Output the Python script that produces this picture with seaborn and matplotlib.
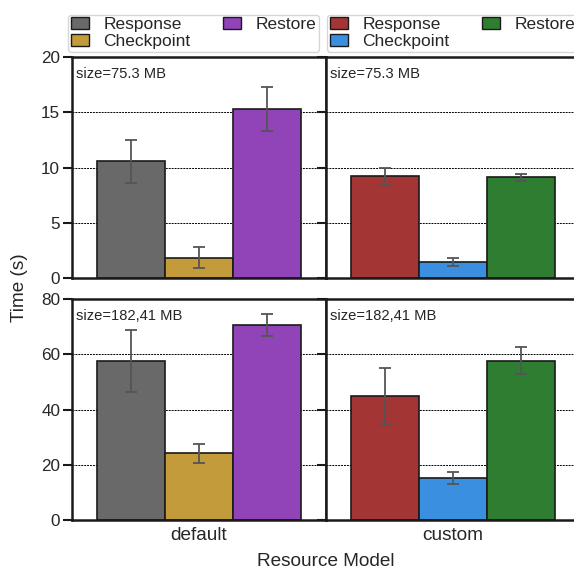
import numpy as np
import pandas as pd
import matplotlib
matplotlib.use("Agg")
import matplotlib.pyplot as plt
import seaborn as sns
from matplotlib.patches import Patch

# ---- data -------------------------------------------------------------
models = ["default", "custom"]
sizes = ["75.3 MB", "182,41 MB"]
phases = ["Response", "Checkpoint", "Restore"]

# mean time (s) and error half-width, per image size / resource model
mean_small_default = [10.55, 1.85, 15.3]
err_small_default = [1.93, 0.92, 2.0]
mean_small_custom = [9.2, 1.48, 9.1]
err_small_custom = [0.8, 0.35, 0.35]
mean_large_default = [57.5, 24.1, 70.6]
err_large_default = [11.2, 3.45, 4.15]
mean_large_custom = [44.8, 15.1, 57.7]
err_large_custom = [10.3, 2.2, 5.0]

y_limits = [20, 80]
y_ticks = [[0, 5, 10, 15, 20], [0, 20, 40, 60, 80]]

colors = {
    "default": ["#696969", "#c49b3a", "#9044b8"],
    "custom": ["#a33535", "#3a8fe0", "#2e7d30"],
}

table = {
    ("75.3 MB", "default"): (mean_small_default, err_small_default),
    ("75.3 MB", "custom"): (mean_small_custom, err_small_custom),
    ("182,41 MB", "default"): (mean_large_default, err_large_default),
    ("182,41 MB", "custom"): (mean_large_custom, err_large_custom),
}
rows = []
for (size, model), (means, errs) in table.items():
    for phase, m, e in zip(phases, means, errs):
        rows.append(dict(size=size, model=model, phase=phase, time=m, err=e))
df = pd.DataFrame(rows)

# ---- style ------------------------------------------------------------
sns.set_theme(style="ticks")
plt.rcParams["font.family"] = ["Liberation Sans", "DejaVu Sans"]
plt.rcParams["axes.edgecolor"] = "#1a1a1a"
plt.rcParams["axes.linewidth"] = 1.8

W, H = 574, 572
fig = plt.figure(figsize=(W / 100, H / 100), dpi=100)

edge = "#1a1a1a"
ax_w = 254
col_left = [72, 326]
row_top = [57, 299]
ax_h = 221

axes = {}
for r, size in enumerate(sizes):
    for c, model in enumerate(models):
        left = col_left[c] / W
        bottom = (H - row_top[r] - ax_h) / H
        ax = fig.add_axes([left, bottom, ax_w / W, ax_h / H])
        axes[(r, c)] = ax
        sub = df[(df["size"] == size) & (df["model"] == model)]
        sns.barplot(data=sub, x="model", y="time", hue="phase",
                    hue_order=phases, palette=colors[model], saturation=1,
                    errorbar=None, edgecolor=edge, linewidth=1.2, width=0.8,
                    gap=0, legend=False, ax=ax)
        xs = [p.get_x() + p.get_width() / 2 for p in ax.patches]
        hs = [p.get_height() for p in ax.patches]
        errs = sub.set_index("phase").loc[phases, "err"].values
        ax.errorbar(xs, hs, yerr=errs, fmt="none", ecolor="#555555",
                    elinewidth=1.3, capsize=4.5, capthick=1.3, zorder=5)
        ax.set_xlim(-0.5, 0.5)
        ax.set_ylim(0, y_limits[r])
        ax.set_yticks(y_ticks[r])
        ax.set_axisbelow(True)
        ax.yaxis.grid(True, color="black", linestyle=(0, (2, 1)), linewidth=0.7)
        ax.set_xlabel("")
        ax.set_ylabel("")
        ax.tick_params(axis="y", length=6.5, width=1.5, labelsize=12.3,
                       pad=2, color=edge)
        ax.tick_params(axis="x", length=0, labelsize=13.7, pad=5)
        if c == 1:
            ax.tick_params(axis="y", labelleft=False)
        if r == 0:
            ax.tick_params(axis="x", labelbottom=False)
        ax.text(0.016, 0.955, f"size={size}", transform=ax.transAxes,
                ha="left", va="top", fontsize=10.6)
        for s in ax.spines.values():
            s.set_linewidth(1.8)

# one legend per resource model, above its column
for c, model in enumerate(models):
    handles = [Patch(facecolor=col, edgecolor=edge, linewidth=1.0, label=p)
               for p, col in zip(phases, colors[model])]
    x0 = -0.016 if c == 0 else 0.004
    axes[(0, c)].legend(handles=handles, ncol=2, loc="lower left",
                        bbox_to_anchor=(x0, 1.023, 0.99, 0.05), mode="expand",
                        fontsize=12.5, frameon=True, borderaxespad=0,
                        handlelength=1.05, handleheight=0.7,
                        handletextpad=0.85, labelspacing=0.1,
                        borderpad=0.15, fancybox=True, edgecolor="#cccccc")

fig.text(20 / W, 1 - 288 / H, "Time (s)", rotation=90, ha="center",
         va="center", fontsize=13.7)
fig.text(326 / W, 1 - 562 / H, "Resource Model", ha="center", va="center",
         fontsize=13.7)

fig.savefig("out.png", dpi=100)
